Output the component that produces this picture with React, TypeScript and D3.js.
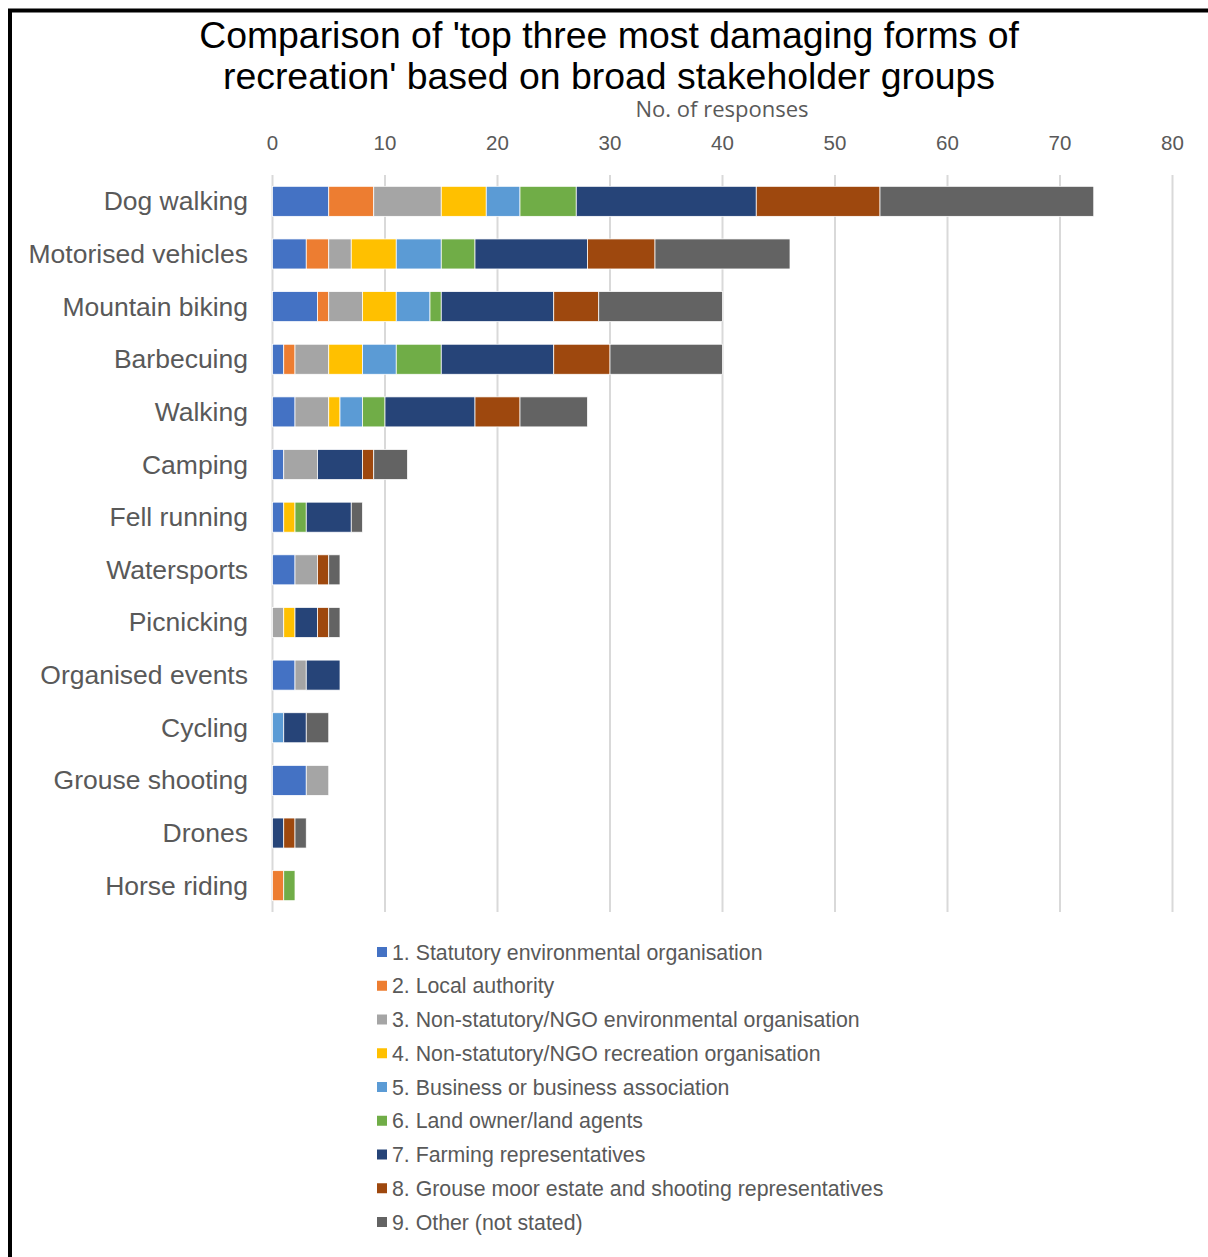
import React from "react";
import * as d3 from "d3";

const categories = [
  "Dog walking", "Motorised vehicles", "Mountain biking", "Barbecuing", "Walking",
  "Camping", "Fell running", "Watersports", "Picnicking", "Organised events",
  "Cycling", "Grouse shooting", "Drones", "Horse riding",
];

const seriesNames = [
  "1. Statutory environmental organisation",
  "2. Local authority",
  "3. Non-statutory/NGO environmental organisation",
  "4. Non-statutory/NGO recreation organisation",
  "5. Business or business association",
  "6. Land owner/land agents",
  "7. Farming representatives",
  "8. Grouse moor estate and shooting representatives",
  "9. Other (not stated)",
];

const seriesColors = ["#4472C4", "#ED7D31", "#A5A5A5", "#FFC000", "#5B9BD5", "#70AD47", "#264478", "#9E480E", "#636363"];

// values per series, in category order
const s1 = [5, 3, 4, 1, 2, 1, 1, 2, 0, 2, 0, 3, 0, 0];
const s2 = [4, 2, 1, 1, 0, 0, 0, 0, 0, 0, 0, 0, 0, 1];
const s3 = [6, 2, 3, 3, 3, 3, 0, 2, 1, 1, 0, 2, 0, 0];
const s4 = [4, 4, 3, 3, 1, 0, 1, 0, 1, 0, 0, 0, 0, 0];
const s5 = [3, 4, 3, 3, 2, 0, 0, 0, 0, 0, 1, 0, 0, 0];
const s6 = [5, 3, 1, 4, 2, 0, 1, 0, 0, 0, 0, 0, 0, 1];
const s7 = [16, 10, 10, 10, 8, 4, 4, 0, 2, 3, 2, 0, 1, 0];
const s8 = [11, 6, 4, 5, 4, 1, 0, 1, 1, 0, 0, 0, 1, 0];
const s9 = [19, 12, 11, 10, 6, 3, 1, 1, 1, 0, 2, 0, 1, 0];

const seriesValues = [s1, s2, s3, s4, s5, s6, s7, s8, s9];
const xTicks = [0, 10, 20, 30, 40, 50, 60, 70, 80];

const W = 1208;
const H = 1257;
const textColor = "#595959";

export default function App() {
  const x = d3.scaleLinear().domain([0, 80]).range([272.5, 1172.5]);
  const y = d3.scaleBand<string>().domain(categories).range([175, 912]).paddingInner(0.43).paddingOuter(0.215);

  const rows = categories.map((c, i) => {
    const obj: Record<string, number | string> = { cat: c };
    seriesNames.forEach((s, j) => (obj[s] = seriesValues[j][i]));
    return obj;
  });
  const stacked = d3.stack<Record<string, number | string>>().keys(seriesNames)(rows as any);

  return (
    <svg width={W} height={H} style={{ position: "absolute", left: 0, top: 0, fontFamily: "Liberation Sans, Arial, sans-serif" }}>
      <rect x={0} y={0} width={W} height={H} fill="#fff" />
      <rect x={10} y={10.5} width={W + 50} height={H + 50} fill="none" stroke="#000" strokeWidth={4} />
      <text x={609} y={48} textAnchor="middle" fontSize={37.4} fill="#000">
        Comparison of 'top three most damaging forms of
      </text>
      <text x={609} y={89} textAnchor="middle" fontSize={37.4} fill="#000">
        recreation' based on broad stakeholder groups
      </text>
      <text x={722} y={117} textAnchor="middle" fontSize={22} fill={textColor} fontFamily="Open Sans, sans-serif">
        No. of responses
      </text>
      {xTicks.map((t) => (
        <g key={t}>
          <line x1={x(t)} x2={x(t)} y1={175} y2={912} stroke="#d9d9d9" strokeWidth={2} />
          <text x={x(t)} y={150} textAnchor="middle" fontSize={20.5} fill={textColor}>
            {t}
          </text>
        </g>
      ))}
      {stacked.map((layer, j) => (
        <g key={j} fill={seriesColors[j]}>
          {layer.map((d, i) =>
            d[1] - d[0] > 0 ? (
              <rect
                key={i}
                x={x(d[0])}
                y={y(categories[i])!}
                width={x(d[1]) - x(d[0])}
                height={y.bandwidth()}
                stroke="#fff"
                strokeWidth={0.75}
              />
            ) : null
          )}
        </g>
      ))}
      {categories.map((c) => (
        <text key={c} x={248} y={y(c)! + y.bandwidth() / 2 + 9} textAnchor="end" fontSize={26.5} fill={textColor}>
          {c}
        </text>
      ))}
      {seriesNames.map((s, j) => (
        <g key={s} transform={`translate(377, ${952 + j * 33.75})`}>
          <rect x={0} y={-5} width={10} height={10} fill={seriesColors[j]} />
          <text x={15} y={7.5} fontSize={21.3} fill={textColor}>
            {s}
          </text>
        </g>
      ))}
    </svg>
  );
}
